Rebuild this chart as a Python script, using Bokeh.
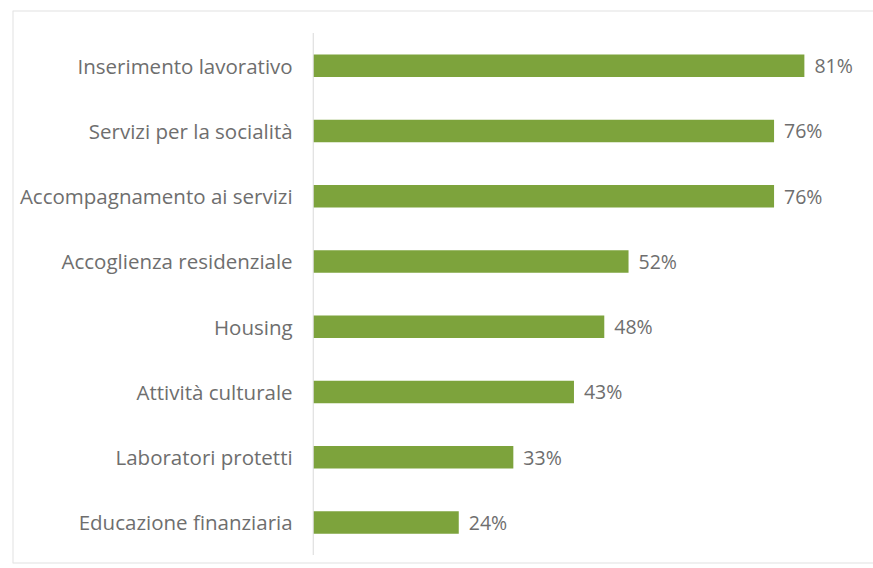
from bokeh.plotting import figure
from bokeh.models import ColumnDataSource, Range1d, Span
from bokeh.core.properties import value
from bokeh.embed import file_html
from bokeh.resources import INLINE

categories = [
    "Inserimento lavorativo",
    "Servizi per la socialità",
    "Accompagnamento ai servizi",
    "Accoglienza residenziale",
    "Housing",
    "Attività culturale",
    "Laboratori protetti",
    "Educazione finanziaria",
]
values = [81, 76, 76, 52, 48, 43, 33, 24]
value_labels = ["81%", "76%", "76%", "52%", "48%", "43%", "33%", "24%"]

pos = list(range(len(categories)))
src = ColumnDataSource(dict(
    y=pos,
    v=values,
    cat=categories,
    lab=value_labels,
    zero=[0] * len(values),
))

X0, X1 = -49.6, 92.4
Y_BOTTOM, Y_TOP = 7.63, -0.845

p = figure(width=873, height=566, output_backend="svg", toolbar_location=None,
           x_range=Range1d(X0, X1), y_range=Range1d(Y_BOTTOM, Y_TOP),
           min_border_left=12, min_border_right=0, min_border_top=10, min_border_bottom=3)
p.xaxis.visible = False
p.yaxis.visible = False
p.grid.visible = False
p.outline_line_color = None
p.background_fill_color = "white"
p.border_fill_color = "white"

border = "#e2e2e2"
p.add_layout(Span(location=X0, dimension="height", line_color=border, line_width=2))
p.add_layout(Span(location=Y_TOP, dimension="width", line_color=border, line_width=2))
p.add_layout(Span(location=Y_BOTTOM, dimension="width", line_color=border, line_width=2))

p.hbar(y="y", left="zero", right="v", height=0.345, source=src,
       fill_color="#7DA33C", line_color=None)

# vertical category axis line
p.segment(x0=[0], y0=[-0.5], x1=[0], y1=[len(categories) - 0.5],
          line_color="#d9d9d9", line_width=1)

p.text(x=-3.4, y="y", text="cat", source=src, text_align="right",
       text_baseline="middle", text_color="#6e6e6e", text_font_size="20.5px",
       text_font=value("Open Sans"))
p.text(x="v", y="y", text="lab", source=src, x_offset=10, text_align="left",
       text_baseline="middle", text_color="#6e6e6e", text_font_size="19.5px",
       text_font=value("Open Sans"))

open("out.html", "w").write(file_html(p, INLINE))
